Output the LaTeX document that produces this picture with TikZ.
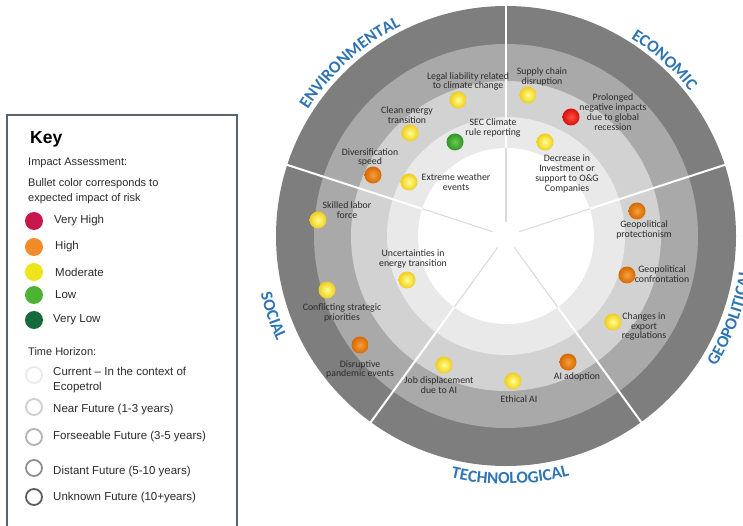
\documentclass[tikz,border=0pt]{standalone}
\usepackage{fontspec}
\setmainfont{Liberation Sans}
\newfontfamily\calib{Carlito}
\usetikzlibrary{decorations.text}

% ring shades, from the rim inwards
\definecolor{ringA}{HTML}{7E7E7E}
\definecolor{ringB}{HTML}{A9A9A9}
\definecolor{ringC}{HTML}{D2D2D2}
\definecolor{ringD}{HTML}{E9E9E9}
\definecolor{catblue}{HTML}{2E74B5}
\definecolor{lbltext}{HTML}{2A2A2A}
\definecolor{keytext}{HTML}{2B2B2B}
\definecolor{keyframe}{HTML}{59636E}
% impact colours
\definecolor{vhigh}{HTML}{C8174B}
\definecolor{high}{HTML}{F28C2B}
\definecolor{moder}{HTML}{EFE51B}
\definecolor{low}{HTML}{4DB335}
\definecolor{vlow}{HTML}{15693A}
% time horizon rings
\definecolor{thA}{HTML}{EBEBEB}
\definecolor{thB}{HTML}{CFCFCF}
\definecolor{thC}{HTML}{B3B3B3}
\definecolor{thD}{HTML}{8F8F8F}
\definecolor{thE}{HTML}{5E5E5E}

\newcommand\catfont{\calib\bfseries\fontsize{17}{20}\selectfont}

\tikzset{
  divider/.style={white, line width=2pt},
  hubline/.style={draw=black!14, line width=1.1pt},
  lbl/.style={align=center, inner sep=0pt, text=lbltext,
    font=\calib\fontsize{9.8}{9.8}\selectfont},
  riskdot/.style={circle, minimum size=17pt, inner sep=0pt, shading=radial},
  ydot/.style={riskdot, inner color=yellow!45!white, outer color={rgb,255:red,240;green,205;blue,30}},
  odot/.style={riskdot, inner color={rgb,255:red,245;green,160;blue,60}, outer color={rgb,255:red,214;green,104;blue,0}},
  rdot/.style={riskdot, inner color={rgb,255:red,255;green,80;blue,60}, outer color={rgb,255:red,215;green,15;blue,15}},
  gdot/.style={riskdot, inner color={rgb,255:red,110;green,200;blue,80}, outer color={rgb,255:red,45;green,150;blue,40}},
  keydot/.style={circle, minimum size=18pt, inner sep=0pt},
  keyring/.style={circle, minimum size=16pt, inner sep=0pt, line width=1.8pt},
  keylbl/.style={anchor=west, inner sep=0pt, text=keytext, font=\fontsize{11.5}{15}\selectfont, align=left},
  keyhead/.style={anchor=west, inner sep=0pt, text=keytext, font=\fontsize{11}{15}\selectfont, align=left},
  catlabel/.style={decorate, decoration={text along path, text align=center, text color=catblue, text={|\catfont|#1}}}
}

\begin{document}
\begin{tikzpicture}[x=1pt,y=1pt]
\useasboundingbox (0,0) rectangle (743,525);

% ---------- radar rings ----------
\coordinate (C) at (506,289);
\fill[ringA] (C) circle (230pt);
\fill[ringB] (C) circle (192pt);
\fill[ringC] (C) circle (155pt);
\fill[ringD] (C) circle (119pt);
\fill[white] (C) circle (88pt);

% five sector dividers
\foreach \a in {18,90,162,234,306} {
  \draw[divider] (C) ++(\a:88pt) -- ++(\a:144pt);
  \draw[hubline] (C) ++(\a:14pt) -- ++(\a:74pt);
}

% ---------- sector titles ----------
\path[catlabel=ENVIRONMENTAL] (C) ++(172:235pt) arc[start angle=172, end angle=92, radius=235pt];
\path[catlabel=ECONOMIC] (C) ++(88:234pt) arc[start angle=88, end angle=8, radius=234pt];
\path[catlabel=GEOPOLITICAL] (C) ++(-60:247pt) arc[start angle=-60, end angle=20, radius=247pt];
\path[catlabel=TECHNOLOGICAL] (C) ++(231:248pt) arc[start angle=231, end angle=311, radius=248pt];
\path[catlabel=SOCIAL] (C) ++(169:252pt) arc[start angle=169, end angle=229, radius=252pt];

% ---------- risks ----------
\node[ydot] (legal) at (458,425) {};
\node[lbl] (legal-t) at (468,443.5) {Legal liability related\\to climate change};
\node[ydot] (supply) at (528,430) {};
\node[lbl] (supply-t) at (542,448) {Supply chain\\disruption};
\node[lbl] (prolong-t) at (613,413) {Prolonged\\negative impacts\\due to global\\recession};
\node[rdot] (prolong) at (571,408) {};
\node[ydot] (clean) at (410,392) {};
\node[lbl] (clean-t) at (407,410) {Clean energy\\transition};
\node[gdot] (sec) at (455,383) {};
\node[lbl] (sec-t) at (493,397) {SEC Climate\\rule reporting};
\node[odot] (divers) at (373,350) {};
\node[lbl] (divers-t) at (370,367.5) {Diversification\\speed};
\node[ydot] (extreme) at (409,343) {};
\node[lbl] (extreme-t) at (456,343) {Extreme weather\\events};
\node[ydot] (decrease) at (545,383) {};
\node[lbl] (decrease-t) at (567,351) {Decrease in\\Investment or\\support to O\&G\\Companies};
\node[ydot] (skilled) at (318,305) {};
\node[lbl] (skilled-t) at (347,314.5) {Skilled labor\\force};
\node[ydot] (uncert) at (407,245) {};
\node[lbl] (uncert-t) at (413,266) {Uncertainties in\\energy transition};
\node[ydot] (conflict) at (327,235) {};
\node[lbl] (conflict-t) at (342,212) {Conflicting strategic\\priorities};
\node[odot] (pandemic) at (360,180) {};
\node[lbl] (pandemic-t) at (360,155.5) {Disruptive\\pandemic events};
\node[ydot] (jobs) at (444,160) {};
\node[lbl] (jobs-t) at (439,139.5) {Job displacement\\due to AI};
\node[ydot] (ethic) at (513,144) {};
\node[lbl] (ethic-t) at (519,126) {Ethical AI};
\node[odot] (aiadopt) at (568,163) {};
\node[lbl] (aiadopt-t) at (577,148) {AI adoption};
\node[odot] (protect) at (637,314) {};
\node[lbl] (protect-t) at (644,295) {Geopolitical\\protectionism};
\node[odot] (confront) at (627,250) {};
\node[lbl] (confront-t) at (662,250.5) {Geopolitical\\confrontation};
\node[lbl] (export-t) at (644,198.5) {Changes in\\export\\regulations};
\node[ydot] (export) at (613,203) {};

% ---------- key ----------
\draw[keyframe, line width=1.5pt, fill=white] (7,410) rectangle (237,-8);
\node[anchor=west, inner sep=0pt, text=black, font=\bfseries\fontsize{17.5}{20}\selectfont] (keytitle) at (30,386) {Key};
\node[keyhead] (impact) at (28,362) {Impact Assessment:};
\node[keyhead] (bullet) at (28,333.5) {Bullet color corresponds to\\expected impact of risk};

\node[keydot, fill=vhigh] (k1) at (34,304) {};
\node[keylbl] (k1-t) at (54,304) {Very High};
\node[keydot, fill=high] (k2) at (34,278) {};
\node[keylbl] (k2-t) at (55,278) {High};
\node[keydot, fill=moder] (k3) at (34,253) {};
\node[keylbl] (k3-t) at (55,253) {Moderate};
\node[keydot, fill=low] (k4) at (34,230) {};
\node[keylbl] (k4-t) at (55,230) {Low};
\node[keydot, fill=vlow] (k5) at (34,205) {};
\node[keylbl] (k5-t) at (53,205) {Very Low};

\node[keyhead] (horizon) at (28,173) {Time Horizon:};
\node[keyring, draw=thA] (t1) at (34,150) {};
\node[keylbl] (t1-t) at (53,144.5) {Current -- In the context of\\Ecopetrol};
\node[keyring, draw=thB] (t2) at (34,118) {};
\node[keylbl] (t2-t) at (53,115) {Near Future (1-3 years)};
\node[keyring, draw=thC] (t3) at (34,88) {};
\node[keylbl] (t3-t) at (53,88) {Forseeable Future (3-5 years)};
\node[keyring, draw=thD] (t4) at (34,57) {};
\node[keylbl] (t4-t) at (53,53) {Distant Future (5-10 years)};
\node[keyring, draw=thE] (t5) at (34,28) {};
\node[keylbl] (t5-t) at (53,27) {Unknown Future (10+years)};
\end{tikzpicture}
\end{document}
